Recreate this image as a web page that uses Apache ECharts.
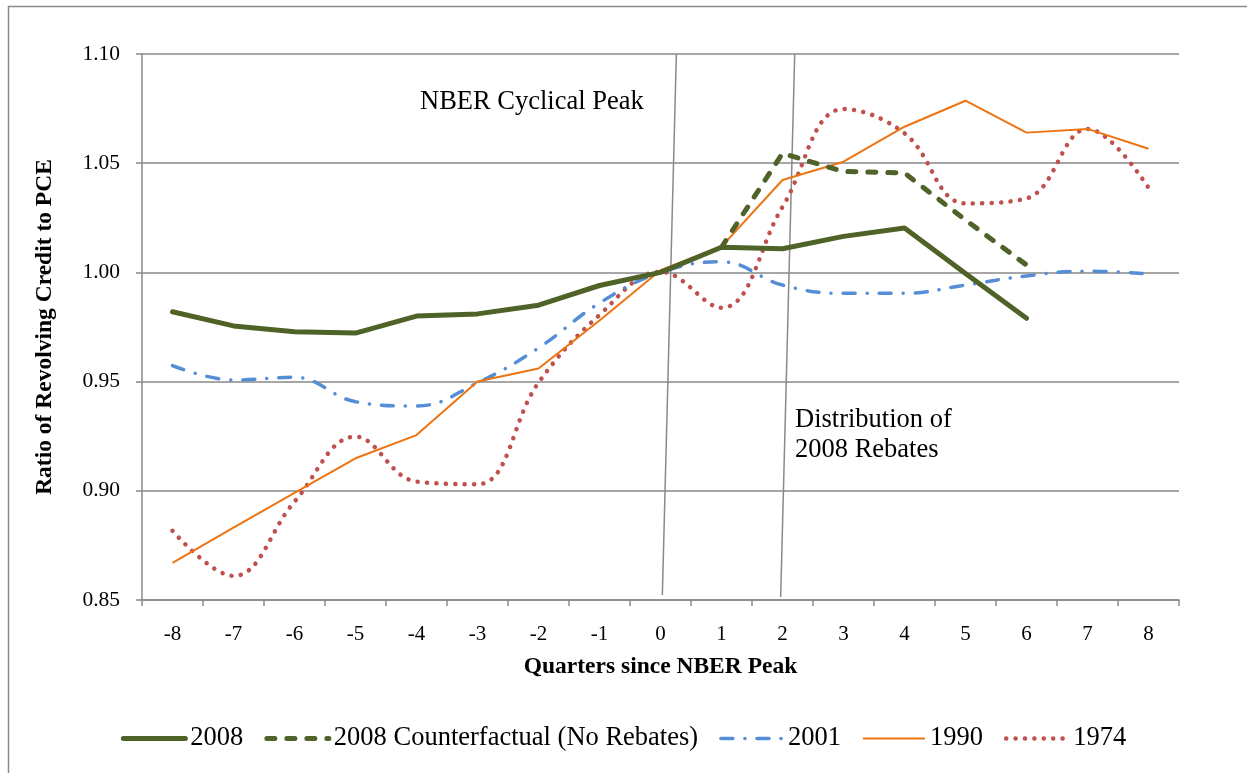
<!DOCTYPE html>
<html>
<head>
<meta charset="utf-8">
<script src="https://cdn.jsdelivr.net/npm/echarts@6/dist/echarts.min.js"></script>
<style>
html,body{margin:0;padding:0;background:#fff;}
#chart{width:1247px;height:773px;}
</style>
</head>
<body>
<div id="chart"></div>
<script>
const quarters = ['-8','-7','-6','-5','-4','-3','-2','-1','0','1','2','3','4','5','6','7','8'];
const yTicks = [0.85, 0.90, 0.95, 1.00, 1.05, 1.10];
const s2008 = [0.982, 0.9755, 0.9728, 0.9722, 0.980, 0.981, 0.985, 0.994, 1.000, 1.0115, 1.0108, 1.0165, 1.0203, 0.9995, 0.979, null, null];
const s2008cf = [null, null, null, null, null, null, null, null, null, 1.0115, 1.0545, 1.0462, 1.0455, 1.024, 1.0034, null, null];
const s2001 = [0.9573, 0.9507, 0.952, 0.9408, 0.9388, 0.9494, 0.9654, 0.986, 1.000, 1.0049, 0.9942, 0.9904, 0.9904, 0.9942, 0.9984, 1.0006, 0.9993];
const s1990 = [0.867, 0.8831, 0.8991, 0.9149, 0.9255, 0.950, 0.956, 0.978, 1.001, 1.0118, 1.0423, 1.0507, 1.0667, 1.0786, 1.064, 1.0657, 1.0566];
const s1974 = [0.8817, 0.861, 0.895, 0.9248, 0.9042, 0.903, 0.9495, 0.9805, 1.0003, 0.9838, 1.030, 1.0748, 1.0637, 1.0316, 1.0339, 1.0657, 1.0387];
const peakLine = [[0.26, 1.10], [0.03, 0.8523]];
const rebateLine = [[2.2, 1.10], [1.97, 0.8514]];

const FONT = "'Liberation Serif','Times New Roman',serif";
const GRID = '#898989';

const chart = echarts.init(document.getElementById('chart'));
chart.setOption({
  animation: false,
  backgroundColor: '#fff',
  textStyle: {fontFamily: FONT},
  grid: {left: 142, right: 68, top: 54, bottom: 173},
  legend: {
    data: ['2008', '2008 Counterfactual (No Rebates)', '2001', '1990', '1974'],
    left: 'center', top: 720,
    itemWidth: 62, itemHeight: 14, itemGap: 21,
    textStyle: {fontFamily: FONT, fontSize: 26.5, color: '#000'},
    itemStyle: {opacity: 0},
    lineStyle: {width: 'inherit'}
  },
  xAxis: [{
    type: 'category', data: quarters, boundaryGap: true,
    name: 'Quarters since NBER Peak', nameLocation: 'middle', nameGap: 55,
    nameTextStyle: {fontFamily: FONT, fontSize: 23.5, fontWeight: 'bold', color: '#000'},
    axisLine: {lineStyle: {color: GRID, width: 1.5}},
    axisTick: {show: true, length: 6, lineStyle: {color: GRID, width: 1.5}},
    axisLabel: {fontFamily: FONT, fontSize: 21, color: '#000', margin: 24},
    splitLine: {show: false}
  }, {
    type: 'value', min: -8.5, max: 8.5, show: false
  }],
  yAxis: {
    type: 'value', min: 0.85, max: 1.10, interval: 0.05,
    name: 'Ratio of Revolving Credit to PCE', nameLocation: 'middle', nameGap: 85,
    nameTextStyle: {fontFamily: FONT, fontSize: 23.5, fontWeight: 'bold', color: '#000'},
    axisLine: {show: true, onZero: false, lineStyle: {color: GRID, width: 1.5}},
    axisTick: {show: true, length: 6, lineStyle: {color: GRID, width: 1.5}},
    axisLabel: {fontFamily: FONT, fontSize: 21.5, color: '#000', margin: 22,
      formatter: v => v.toFixed(2)},
    splitLine: {show: true, lineStyle: {color: GRID, width: 1.5}}
  },
  series: [
    {name: 'NBER peak', type: 'line', xAxisIndex: 1, data: peakLine, symbol: 'none',
     lineStyle: {color: '#8a8a8a', width: 1.5}, silent: true, z: 1},
    {name: 'Rebates', type: 'line', xAxisIndex: 1, data: rebateLine, symbol: 'none',
     lineStyle: {color: '#8a8a8a', width: 1.5}, silent: true, z: 1},
    {name: '1974', type: 'line', data: s1974, symbol: 'none', smooth: 0.4, z: 3,
     itemStyle: {color: '#C0504D'},
     lineStyle: {color: '#C0504D', width: 4.5, type: [0.1, 9.3], cap: 'round'}},
    {name: '1990', type: 'line', data: s1990, symbol: 'none', z: 4,
     itemStyle: {color: '#EE7412'},
     lineStyle: {color: '#EE7412', width: 2}},
    {name: '2001', type: 'line', data: s2001, symbol: 'none', smooth: 0.4, z: 3,
     itemStyle: {color: '#558ED5'},
     lineStyle: {color: '#558ED5', width: 3.5, type: [12, 12, 0.1, 12], cap: 'round'}},
    {name: '2008 Counterfactual (No Rebates)', type: 'line', data: s2008cf, symbol: 'none', z: 5,
     itemStyle: {color: '#4F6228'},
     lineStyle: {color: '#4F6228', width: 5, type: [8, 12], cap: 'round'}},
    {name: '2008', type: 'line', data: s2008, symbol: 'none', z: 6,
     itemStyle: {color: '#4F6228'},
     lineStyle: {color: '#4F6228', width: 5, cap: 'round', join: 'round'}}
  ],
  graphic: [
    {type: 'rect', left: 6, top: 4, silent: true,
     shape: {width: 1300, height: 900},
     style: {fill: 'none', stroke: '#8a8a8a', lineWidth: 1.5}},
    {type: 'text', left: 420, top: 89, silent: true,
     style: {text: 'NBER Cyclical Peak', font: "26.5px 'Liberation Serif'", fill: '#000'}},
    {type: 'text', left: 795, top: 405, silent: true,
     style: {text: 'Distribution of\n2008 Rebates', font: "26.5px 'Liberation Serif'", fill: '#000', lineHeight: 30}}
  ]
});
</script>
</body>
</html>
